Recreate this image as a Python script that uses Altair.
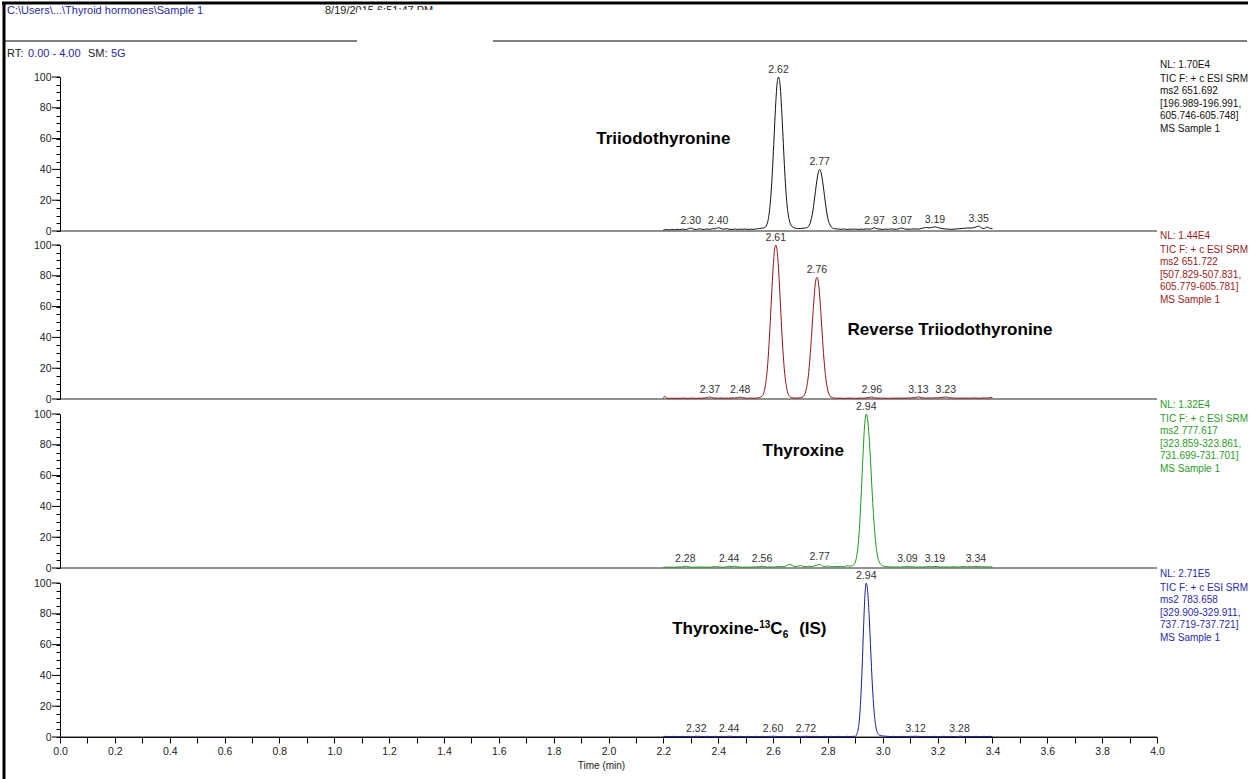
import altair as alt
import pandas as pd

FONT = "Liberation Sans"

# Plot-area geometry: one shared time axis, four stacked 0-100 % panels
X_DOMAIN = [0.0, 4.0]
PLOT_W, PLOT_H = 1097, 660
PANEL_H = 154
PANEL_TOPS = [0, 168, 337, 506]
ORIGIN_X, ORIGIN_Y = 60, 77

# ---------------- Triiodothyronine (T3) ----------------
T3_TIME = [
    2.20, 2.21, 2.22, 2.23, 2.24, 2.25, 2.26, 2.27, 2.28, 2.29,
    2.30, 2.31, 2.32, 2.33, 2.34, 2.35, 2.36, 2.37, 2.38, 2.39,
    2.40, 2.41, 2.42, 2.43, 2.44, 2.45, 2.46, 2.47, 2.48, 2.49,
    2.50, 2.51, 2.52, 2.53, 2.54, 2.55, 2.56, 2.57, 2.58, 2.59,
    2.595, 2.60, 2.605, 2.61, 2.615, 2.62, 2.625, 2.63, 2.635, 2.64,
    2.645, 2.65, 2.66, 2.67, 2.68, 2.69, 2.70, 2.71, 2.72, 2.73,
    2.74, 2.745, 2.75, 2.755, 2.76, 2.765, 2.77, 2.775, 2.78, 2.785,
    2.79, 2.795, 2.80, 2.81, 2.82, 2.83, 2.84, 2.85, 2.86, 2.87,
    2.88, 2.89, 2.90, 2.91, 2.92, 2.93, 2.94, 2.95, 2.96, 2.97,
    2.98, 2.99, 3.00, 3.01, 3.02, 3.03, 3.04, 3.05, 3.06, 3.07,
    3.08, 3.09, 3.10, 3.11, 3.12, 3.13, 3.14, 3.15, 3.16, 3.17,
    3.18, 3.19, 3.20, 3.21, 3.22, 3.23, 3.24, 3.25, 3.26, 3.27,
    3.28, 3.29, 3.30, 3.31, 3.32, 3.33, 3.34, 3.35, 3.36, 3.37,
    3.38, 3.39, 3.40,
]
T3_SIGNAL = [
    0.6, 0.9, 0.7, 1.0, 0.8, 1.1, 0.9, 1.2, 1.0, 1.3,
    1.9, 1.2, 1.0, 1.4, 1.1, 1.0, 1.3, 1.1, 1.5, 1.4,
    2.2, 1.6, 1.2, 1.5, 1.1, 1.0, 1.3, 1.0, 1.2, 1.1,
    1.3, 1.0, 1.2, 1.1, 1.4, 1.6, 1.9, 2.2, 5.6, 18.4,
    30.7, 47.0, 65.7, 83.5, 96.0, 100.0, 96.0, 83.5, 66.0, 47.5,
    31.0, 19.0, 6.5, 2.8, 1.9, 1.6, 1.6, 1.8, 2.0, 3.1,
    8.2, 12.8, 19.3, 26.3, 33.0, 38.0, 40.0, 38.0, 33.0, 26.5,
    19.5, 13.0, 8.0, 3.2, 1.7, 1.4, 1.2, 1.1, 1.3, 1.0,
    1.2, 1.1, 1.3, 1.0, 1.2, 1.1, 1.3, 1.2, 1.5, 2.1,
    1.4, 1.2, 1.0, 1.3, 1.1, 1.4, 1.2, 1.1, 1.5, 1.9,
    1.3, 1.2, 1.1, 1.4, 1.3, 1.2, 1.6, 2.0, 2.3, 2.0,
    2.4, 2.7, 2.2, 1.8, 1.5, 1.3, 1.2, 1.1, 1.2, 1.4,
    1.5, 1.7, 1.8, 2.0, 1.9, 2.1, 2.6, 3.2, 2.0, 1.6,
    2.6, 1.8, 1.6,
]
T3_PEAKS = [2.30, 2.40, 2.62, 2.77, 2.97, 3.07, 3.19, 3.35]

# ---------------- Reverse triiodothyronine (rT3) ----------------
RT3_TIME = [
    2.20, 2.205, 2.21, 2.22, 2.23, 2.24, 2.25, 2.26, 2.27, 2.28,
    2.29, 2.30, 2.31, 2.32, 2.33, 2.34, 2.35, 2.36, 2.37, 2.38,
    2.39, 2.40, 2.41, 2.42, 2.43, 2.44, 2.45, 2.46, 2.47, 2.48,
    2.49, 2.50, 2.51, 2.52, 2.53, 2.54, 2.55, 2.56, 2.57, 2.58,
    2.585, 2.59, 2.595, 2.60, 2.605, 2.61, 2.615, 2.62, 2.625, 2.63,
    2.635, 2.64, 2.65, 2.66, 2.67, 2.68, 2.69, 2.70, 2.71, 2.72,
    2.725, 2.73, 2.735, 2.74, 2.745, 2.75, 2.755, 2.76, 2.765, 2.77,
    2.775, 2.78, 2.785, 2.79, 2.80, 2.81, 2.82, 2.83, 2.84, 2.85,
    2.86, 2.87, 2.88, 2.89, 2.90, 2.91, 2.92, 2.93, 2.94, 2.95,
    2.96, 2.97, 2.98, 2.99, 3.00, 3.01, 3.02, 3.03, 3.04, 3.05,
    3.06, 3.07, 3.08, 3.09, 3.10, 3.11, 3.12, 3.13, 3.14, 3.15,
    3.16, 3.17, 3.18, 3.19, 3.20, 3.21, 3.22, 3.23, 3.24, 3.25,
    3.26, 3.27, 3.28, 3.29, 3.30, 3.31, 3.32, 3.33, 3.34, 3.35,
    3.36, 3.37, 3.38, 3.39, 3.40,
]
RT3_SIGNAL = [
    0.4, 1.8, 0.8, 0.4, 0.5, 0.4, 0.5, 0.4, 0.6, 0.5,
    0.4, 0.6, 0.5, 0.4, 0.6, 0.5, 0.7, 0.9, 1.3, 0.8,
    0.6, 0.5, 0.7, 0.5, 0.6, 0.5, 0.7, 0.6, 0.9, 1.2,
    0.8, 0.6, 0.5, 0.6, 0.5, 0.6, 0.9, 1.8, 6.8, 21.5,
    34.5, 50.5, 68.3, 84.5, 96.2, 100.0, 96.2, 84.5, 68.3, 50.5,
    34.5, 21.5, 6.8, 1.8, 0.8, 0.6, 0.6, 0.8, 1.5, 5.5,
    10.0, 17.2, 27.3, 40.0, 54.1, 66.9, 76.2, 79.0, 76.2, 66.9,
    54.1, 40.0, 27.3, 17.2, 5.5, 1.5, 0.7, 0.5, 0.6, 0.5,
    0.4, 0.5, 0.6, 0.5, 0.4, 0.5, 0.6, 0.5, 0.7, 0.9,
    1.3, 0.8, 0.6, 0.5, 0.6, 0.5, 0.4, 0.5, 0.6, 0.5,
    0.6, 0.5, 0.6, 0.7, 0.6, 0.8, 1.0, 1.4, 0.9, 0.7,
    0.6, 0.7, 0.6, 0.8, 0.7, 0.9, 1.1, 1.3, 0.9, 0.7,
    0.6, 0.5, 0.6, 0.5, 0.6, 0.5, 0.6, 0.7, 0.6, 0.5,
    0.6, 0.7, 0.6, 0.8, 0.9,
]
RT3_PEAKS = [2.37, 2.48, 2.61, 2.76, 2.96, 3.13, 3.23]

# ---------------- Thyroxine (T4) ----------------
T4_TIME = [
    2.20, 2.21, 2.22, 2.23, 2.24, 2.25, 2.26, 2.27, 2.28, 2.29,
    2.30, 2.31, 2.32, 2.33, 2.34, 2.35, 2.36, 2.37, 2.38, 2.39,
    2.40, 2.41, 2.42, 2.43, 2.44, 2.45, 2.46, 2.47, 2.48, 2.49,
    2.50, 2.51, 2.52, 2.53, 2.54, 2.55, 2.56, 2.57, 2.58, 2.59,
    2.60, 2.61, 2.62, 2.63, 2.64, 2.65, 2.66, 2.67, 2.68, 2.69,
    2.70, 2.71, 2.72, 2.73, 2.74, 2.75, 2.76, 2.77, 2.78, 2.79,
    2.80, 2.81, 2.82, 2.83, 2.84, 2.85, 2.86, 2.87, 2.88, 2.89,
    2.90, 2.905, 2.91, 2.915, 2.92, 2.925, 2.93, 2.935, 2.94, 2.945,
    2.95, 2.955, 2.96, 2.965, 2.97, 2.975, 2.98, 2.985, 2.99, 2.995,
    3.00, 3.01, 3.02, 3.03, 3.04, 3.05, 3.06, 3.07, 3.08, 3.09,
    3.10, 3.11, 3.12, 3.13, 3.14, 3.15, 3.16, 3.17, 3.18, 3.19,
    3.20, 3.21, 3.22, 3.23, 3.24, 3.25, 3.26, 3.27, 3.28, 3.29,
    3.30, 3.31, 3.32, 3.33, 3.34, 3.35, 3.36, 3.37, 3.38, 3.39,
    3.40,
]
T4_SIGNAL = [
    0.5, 0.6, 0.5, 0.6, 0.5, 0.7, 0.6, 0.8, 1.2, 0.8,
    0.6, 0.5, 0.6, 0.7, 0.6, 0.5, 0.6, 0.5, 0.7, 1.0,
    0.7, 0.6, 0.5, 0.8, 1.1, 0.9, 1.2, 0.7, 0.6, 0.5,
    0.6, 0.5, 0.6, 0.7, 0.8, 0.9, 1.1, 0.8, 0.6, 0.7,
    0.6, 0.8, 1.0, 0.8, 0.9, 1.6, 2.4, 1.7, 0.9, 1.2,
    1.6, 1.0, 0.8, 1.1, 0.9, 1.3, 1.8, 2.5, 1.4, 1.0,
    1.3, 0.9, 0.8, 1.0, 0.9, 1.1, 0.8, 1.5, 1.2, 1.6,
    3.9, 7.6, 14.5, 25.9, 42.0, 61.7, 81.0, 95.0, 100.0, 96.2,
    85.7, 70.7, 54.0, 38.1, 24.9, 15.1, 8.5, 5.0, 3.0, 2.0,
    1.5, 0.9, 0.8, 0.7, 0.6, 0.7, 0.6, 0.7, 0.8, 1.0,
    0.8, 0.7, 0.6, 0.7, 0.6, 0.7, 0.8, 0.9, 0.8, 1.0,
    0.9, 0.7, 0.6, 0.7, 0.6, 0.7, 0.8, 0.7, 0.6, 0.9,
    0.8, 0.7, 0.9, 0.8, 1.0, 0.8, 0.9, 0.7, 0.8, 0.7,
    0.8,
]
T4_PEAKS = [2.28, 2.44, 2.56, 2.77, 2.94, 3.09, 3.19, 3.34]

# ---------------- Thyroxine-13C6 internal standard ----------------
IS_TIME = list(T4_TIME)
IS_SIGNAL = [
    0.3, 0.4, 0.3, 0.3, 0.4, 0.3, 0.3, 0.4, 0.3, 0.4,
    0.4, 0.3, 0.5, 0.4, 0.3, 0.3, 0.4, 0.3, 0.3, 0.4,
    0.3, 0.4, 0.4, 0.3, 0.5, 0.4, 0.3, 0.3, 0.4, 0.3,
    0.3, 0.4, 0.3, 0.3, 0.4, 0.3, 0.4, 0.3, 0.4, 0.4,
    0.5, 0.4, 0.3, 0.3, 0.4, 0.3, 0.3, 0.4, 0.3, 0.4,
    0.4, 0.4, 0.5, 0.4, 0.3, 0.3, 0.4, 0.3, 0.3, 0.4,
    0.3, 0.4, 0.3, 0.3, 0.4, 0.3, 0.3, 0.4, 0.3, 0.4,
    0.4, 1.7, 4.7, 11.7, 25.2, 46.1, 71.0, 92.0, 100.0, 94.6,
    80.0, 60.7, 41.1, 24.9, 13.5, 6.6, 2.9, 1.6, 1.0, 0.8,
    0.7, 0.5, 0.4, 0.3, 0.4, 0.3, 0.3, 0.4, 0.3, 0.3,
    0.4, 0.4, 0.5, 0.4, 0.3, 0.3, 0.4, 0.3, 0.3, 0.4,
    0.3, 0.3, 0.4, 0.3, 0.3, 0.4, 0.3, 0.3, 0.5, 0.4,
    0.3, 0.4, 0.3, 0.3, 0.4, 0.3, 0.3, 0.4, 0.3, 0.4,
    0.3,
]
IS_PEAKS = [2.32, 2.44, 2.60, 2.72, 2.94, 3.12, 3.28]

# Scan descriptions printed at the right of each panel
T3_INFO = ["NL: 1.70E4", "TIC F: + c ESI SRM", "ms2 651.692",
           "[196.989-196.991,", "605.746-605.748]", "MS Sample 1"]
RT3_INFO = ["NL: 1.44E4", "TIC F: + c ESI SRM", "ms2 651.722",
            "[507.829-507.831,", "605.779-605.781]", "MS Sample 1"]
T4_INFO = ["NL: 1.32E4", "TIC F: + c ESI SRM", "ms2 777.617",
           "[323.859-323.861,", "731.699-731.701]", "MS Sample 1"]
IS_INFO = ["NL: 2.71E5", "TIC F: + c ESI SRM", "ms2 783.658",
           "[329.909-329.911,", "737.719-737.721]", "MS Sample 1"]

TRACE_COLORS = ["#111111", "#8e1414", "#1f961f", "#1c1c98"]
INFO_COLORS = ["#111111", "#9a2222", "#2a9a2a", "#2a2aa6"]
INFO_SHIFT = [-3, 0, 0, 0]   # vertical nudge of each description block (px)

ONE = pd.DataFrame({"k": [0]})
Y_MAJOR = [0, 20, 40, 60, 80, 100]

XSCALE = alt.Scale(domain=X_DOMAIN, nice=False, zero=False)
XAXIS = alt.Axis(
    values=[round(0.1 * i, 1) for i in range(41)],
    format=".1f",
    labelExpr="round(datum.value * 10) % 2 == 0 ? datum.label : ''",
    tickSize=6, tickColor="black", domainColor="black",
    labelFontSize=10.5, labelColor="#222222", labelPadding=3,
    labelOverlap=False, labelFlush=False, grid=False,
    titleFontSize=10, titleFontWeight="normal", titleColor="#222222",
    titlePadding=4, titleX=541, titleAlign="center",
)


def y_enc(top):
    return alt.Y(
        "v:Q",
        title=None,
        scale=alt.Scale(domain=[0, 100], range=[top + PANEL_H, top], nice=False, zero=False),
        axis=alt.Axis(
            orient="left", values=list(range(0, 101, 5)),
            labelExpr="datum.value % 20 == 0 ? datum.label : ''",
            tickSize=4, tickColor="black", domainColor="black",
            labelFontSize=10.5, labelColor="#222222", labelPadding=5,
            labelOverlap=False, grid=False,
        ),
    )


def x_enc():
    return alt.X("t:Q", title="Time (min)", scale=XSCALE, axis=XAXIS)


def panel(i, time, signal, peaks, name_layers):
    top = PANEL_TOPS[i]
    y = y_enc(top)
    trace = pd.DataFrame({"t": time, "v": signal})
    lookup = dict(zip(time, signal))
    peak_df = pd.DataFrame({
        "t": peaks,
        "v": [lookup[p] for p in peaks],
        "lab": [f"{p:.2f}" for p in peaks],
    })
    # longer ticks at the labelled intensities
    major = alt.Chart(pd.DataFrame({"v": Y_MAJOR})).mark_rule(
        color="black", strokeWidth=1).encode(y=y, x=alt.value(-8), x2=alt.value(0))
    baseline = alt.Chart(pd.DataFrame({"v": [0]})).mark_rule(
        color="#222222", strokeWidth=1).encode(y=y)
    line = alt.Chart(trace).mark_line(
        color=TRACE_COLORS[i], strokeWidth=1, interpolate="monotone"
    ).encode(x=x_enc(), y=y)
    labels = alt.Chart(peak_df).mark_text(
        font=FONT, fontSize=10.5, color="#333333", baseline="bottom", dy=-2
    ).encode(x=x_enc(), y=y, text="lab:N")
    names = []
    for txt, t, v, size, dx, dy, align, base in name_layers:
        names.append(
            alt.Chart(pd.DataFrame({"t": [t], "v": [v]})).mark_text(
                text=txt, font=FONT, fontSize=size, fontWeight="bold", color="black",
                align=align, baseline=base, dx=dx, dy=dy,
            ).encode(x=x_enc(), y=y)
        )
    return alt.layer(major, baseline, line, labels, *names)


panels = [
    panel(0, T3_TIME, T3_SIGNAL, T3_PEAKS,
          [("Triiodothyronine", 2.20, 59.7, 17, 0, 0, "center", "middle")]),
    panel(1, RT3_TIME, RT3_SIGNAL, RT3_PEAKS,
          [("Reverse Triiodothyronine", 3.245, 44.8, 17, 0, 0, "center", "middle")]),
    panel(2, T4_TIME, T4_SIGNAL, T4_PEAKS,
          [("Thyroxine", 2.71, 76.0, 17, 0, 0, "center", "middle")]),
    panel(3, IS_TIME, IS_SIGNAL, IS_PEAKS, [
        ("Thyroxine-", 2.232, 67.1, 17, 0, 0, "left", "alphabetic"),
        ("13", 2.232, 67.1, 10, 87, -6, "left", "alphabetic"),
        ("C", 2.232, 67.1, 17, 98, 0, "left", "alphabetic"),
        ("6", 2.232, 67.1, 10, 110.5, 4, "left", "alphabetic"),
        ("(IS)", 2.232, 67.1, 17, 127, 0, "left", "alphabetic"),
    ]),
]

# Right-hand scan descriptions
info_rows = []
for top, shift, color, lines in zip(PANEL_TOPS, INFO_SHIFT, INFO_COLORS,
                                    [T3_INFO, RT3_INFO, T4_INFO, IS_INFO]):
    for k, s in enumerate(lines):
        py = top - 9 if k == 0 else top + 4.5 + 12.5 * (k - 1)
        info_rows.append({"px": 1160 - ORIGIN_X, "py": py + shift, "txt": s, "c": color})
info = alt.Chart(pd.DataFrame(info_rows)).mark_text(
    align="left", baseline="middle", font=FONT, fontSize=10
).encode(
    x=alt.X("px:Q", scale=None), y=alt.Y("py:Q", scale=None),
    text="txt:N", color=alt.Color("c:N", scale=None),
)


def page_rule(x, x2, y, y2, color="black", width=1.0):
    return alt.Chart(ONE).mark_rule(color=color, strokeWidth=width).encode(
        x=alt.value(x - ORIGIN_X), x2=alt.value(x2 - ORIGIN_X),
        y=alt.value(y - ORIGIN_Y), y2=alt.value(y2 - ORIGIN_Y),
    )


def page_text(txt, x, y, color="#222222", size=11):
    return alt.Chart(ONE).mark_text(
        text=txt, font=FONT, fontSize=size, color=color, align="left", baseline="middle"
    ).encode(x=alt.value(x - ORIGIN_X), y=alt.value(y - ORIGIN_Y))


BLUE_TXT = "#2a2aa0"
header = [
    page_text("C:\\Users\\...\\Thyroid hormones\\Sample 1", 7, 11, BLUE_TXT),
    page_text("8/19/2015 6:51:47 PM", 325, 11, "#222222"),
    page_rule(3, 1247, 41, 41, "#555555", 1.5),
    alt.Chart(ONE).mark_rect(color="white").encode(
        x=alt.value(357 - ORIGIN_X), x2=alt.value(493 - ORIGIN_X),
        y=alt.value(10 - ORIGIN_Y), y2=alt.value(44 - ORIGIN_Y),
    ),
    page_text("RT:", 7, 54, "#222222"),
    page_text("0.00 - 4.00", 28, 54, BLUE_TXT),
    page_text("SM:", 88, 54, "#222222"),
    page_text("5G", 111, 54, BLUE_TXT),
    page_rule(2, 1248, 3, 3, "black", 3),
    page_rule(4, 4, 2, 779, "black", 3),
]

chart = alt.layer(*header, info, *panels).resolve_scale(y="independent").properties(
    width=PLOT_W,
    height=PLOT_H,
    autosize=alt.AutoSizeParams(type="none"),
    padding={"left": ORIGIN_X, "top": ORIGIN_Y, "right": 1250 - ORIGIN_X - PLOT_W,
             "bottom": 779 - ORIGIN_Y - PLOT_H},
    background="white",
).configure_view(stroke=None).configure_axis(labelFont=FONT, titleFont=FONT)

chart.save("out.html", embed_options={"renderer": "svg", "actions": False})
